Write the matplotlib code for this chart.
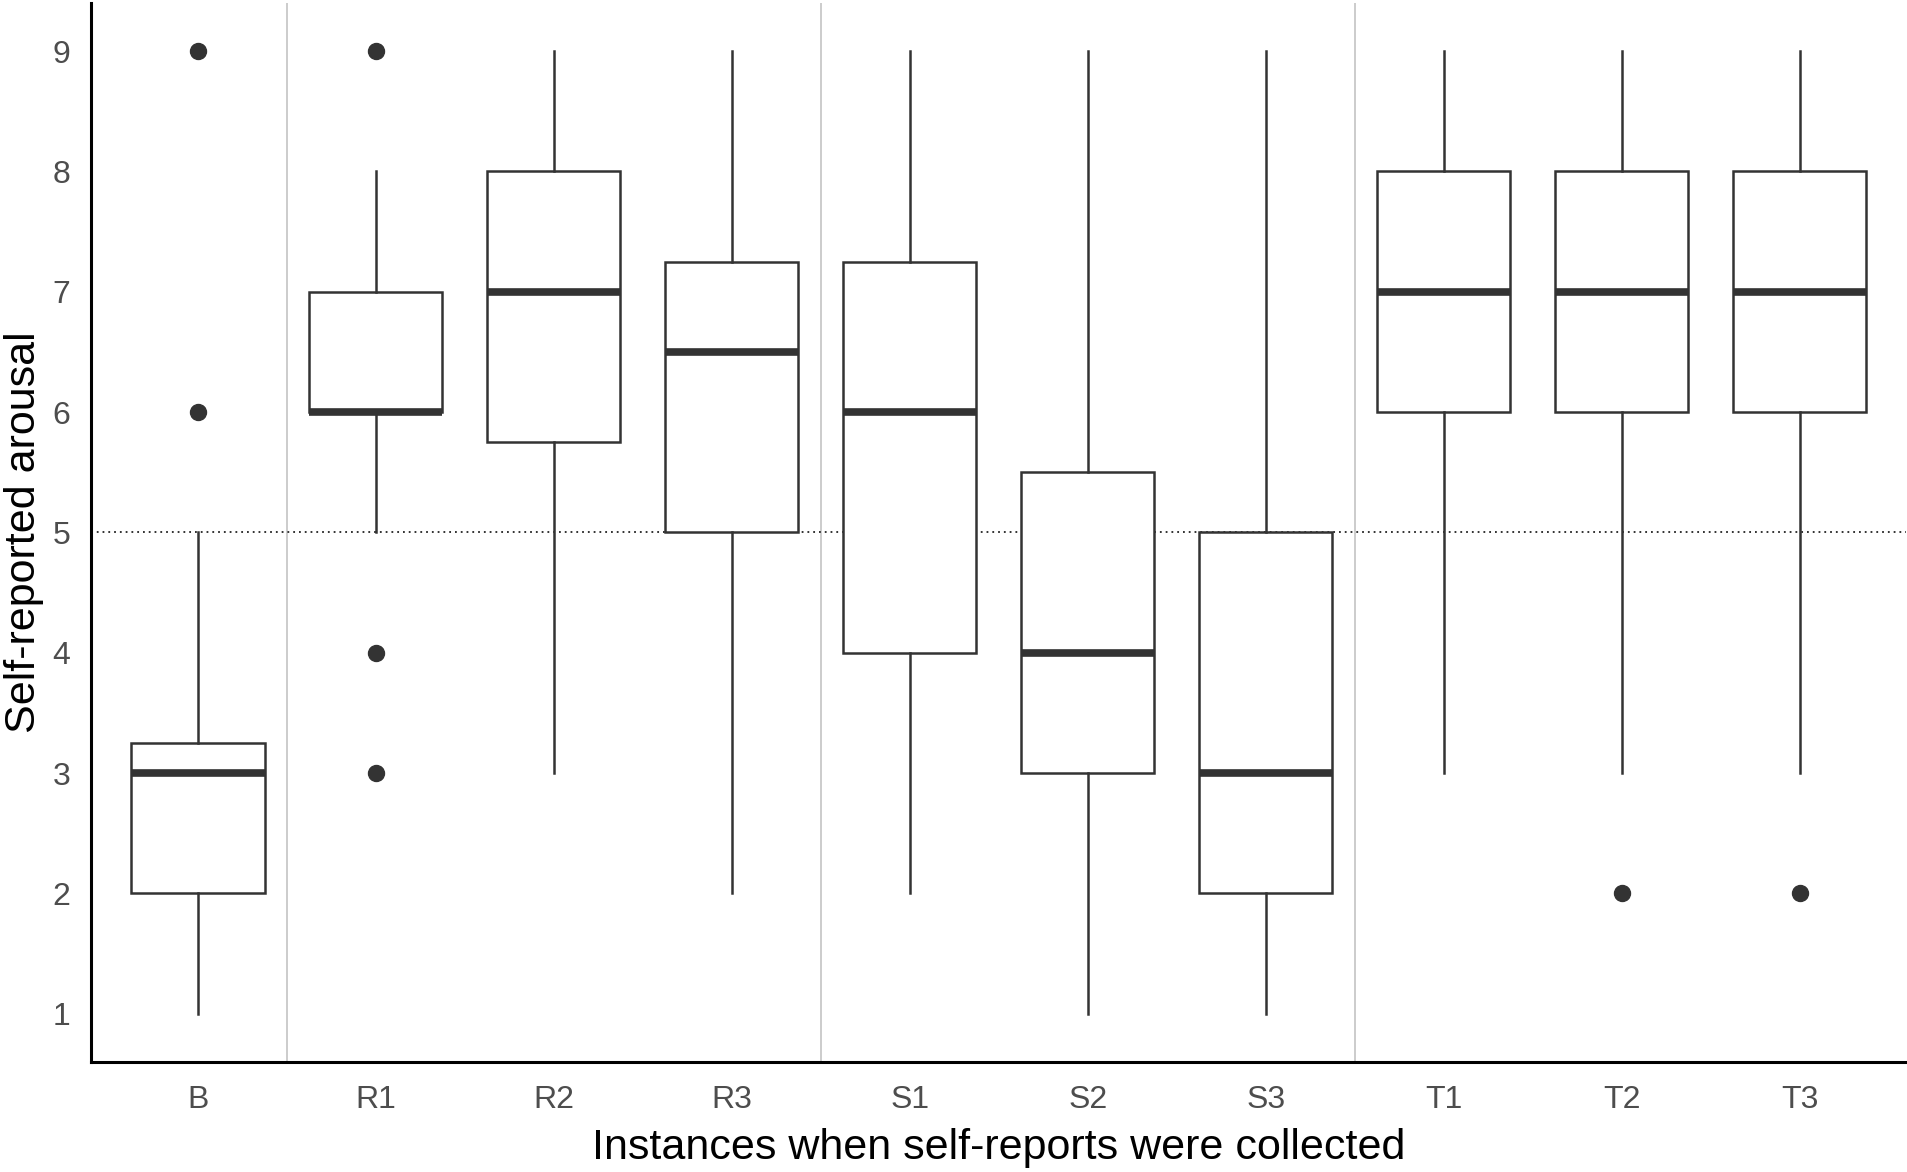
import matplotlib
matplotlib.use("Agg")
import matplotlib.pyplot as plt

plt.rcParams['font.family'] = ['Liberation Sans', 'DejaVu Sans']

categories = ["B", "R1", "R2", "R3", "S1", "S2", "S3", "T1", "T2", "T3"]
whisker_low = [1, 5, 3, 2, 2, 1, 1, 3, 3, 3]
q1_values = [2, 6, 5.75, 5, 4, 3, 2, 6, 6, 6]
medians = [3, 6, 7, 6.5, 6, 4, 3, 7, 7, 7]
q3_values = [3.25, 7, 8, 7.25, 7.25, 5.5, 5, 8, 8, 8]
whisker_high = [5, 8, 9, 9, 9, 9, 9, 9, 9, 9]
outliers = [[6, 9], [3, 4, 9], [], [], [], [], [], [], [2], [2]]
separators = [1.5, 4.5, 7.5]
reference_level = 5
y_ticks = [1, 2, 3, 4, 5, 6, 7, 8, 9]

stats = []
for i, c in enumerate(categories):
    stats.append(dict(label=c, whislo=whisker_low[i], q1=q1_values[i], med=medians[i],
                      q3=q3_values[i], whishi=whisker_high[i], fliers=outliers[i]))

fig = plt.figure(figsize=(19.07, 11.72), dpi=100)
ax = fig.add_axes([0.0477, 0.094, 0.952, 0.9035])

dark = "#333333"
for s in separators:
    ax.axvline(s, color="#c8c8c8", lw=1.3, zorder=0)
ax.axhline(reference_level, color="#222222", lw=1.3, ls=(0, (1, 2.2)), zorder=1)

positions = list(range(1, len(categories) + 1))
ax.bxp(stats, positions=positions, widths=0.75, showcaps=False, patch_artist=True,
       boxprops=dict(facecolor="white", edgecolor=dark, linewidth=1.8),
       whiskerprops=dict(color=dark, linewidth=1.8),
       medianprops=dict(color=dark, linewidth=5.5, solid_capstyle='butt'),
       flierprops=dict(marker='o', markerfacecolor=dark, markeredgecolor=dark, markersize=11.5),
       zorder=3)

ax.set_xlim(0.4, 10.6)
ax.set_ylim(0.6, 9.4)
ax.set_yticks(y_ticks)
ax.set_xticks(positions)
ax.set_xticklabels(categories)
ax.tick_params(axis='both', length=0, labelsize=23, labelcolor="#4d4d4d")
ax.tick_params(axis='y', pad=15)
ax.tick_params(axis='x', pad=17)

for sp in ["top", "right"]:
    ax.spines[sp].set_visible(False)
for sp in ["left", "bottom"]:
    ax.spines[sp].set_color("black")
    ax.spines[sp].set_linewidth(2.2)

ax.set_xlabel("Instances when self-reports were collected", fontsize=31, color="black", labelpad=9)
ax.set_ylabel("Self-reported arousal", fontsize=31, color="black", labelpad=6)

fig.savefig("out.png", dpi=100)
